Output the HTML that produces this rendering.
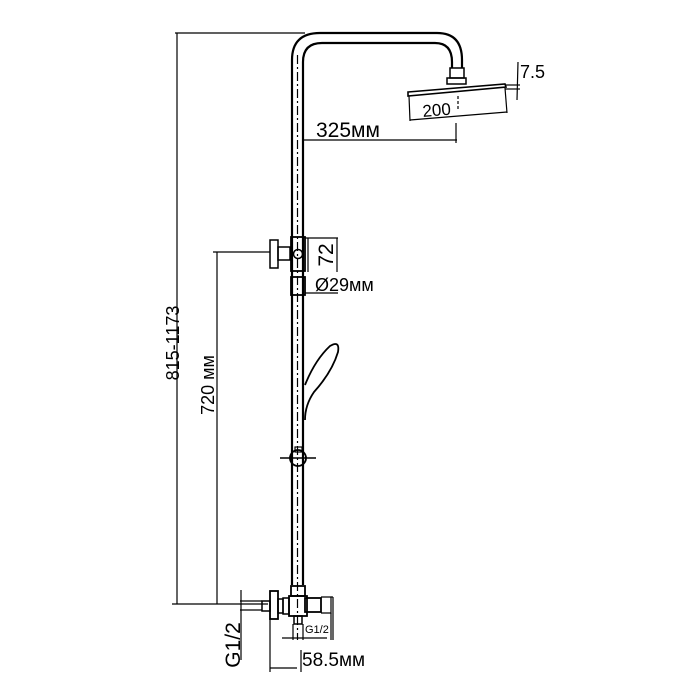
<!DOCTYPE html>
<html><head><meta charset="utf-8"><style>body{margin:0;background:#fff}svg{display:block}</style></head><body>
<svg width="700" height="700" viewBox="0 0 700 700" xmlns="http://www.w3.org/2000/svg" font-family="Liberation Sans, sans-serif">
<g fill="none" stroke="#000" stroke-width="1.2">
<line x1="177" y1="33" x2="177" y2="604"/>
<line x1="175" y1="33" x2="305" y2="33"/>
<line x1="172" y1="604" x2="268" y2="604"/>
<line x1="217" y1="252" x2="217" y2="604"/>
<line x1="213" y1="252" x2="270" y2="252"/>
<path d="M292 585 V60 Q292 33 320 33 H437 Q462 33 462 60 V68" stroke-width="2.2"/>
<path d="M303 585 V62 Q303 43 322 43 H435 Q452 43 452 62 V68" stroke-width="2.2"/>
<line x1="297.5" y1="55" x2="297.5" y2="640" stroke-dasharray="9,3,2,3"/>
<rect x="450" y="68" width="14" height="10" stroke-width="1.5"/>
<rect x="447" y="78" width="19" height="6" stroke-width="1.5"/>
<path d="M408 92 L505 84 L506 87 L408 96 Z" stroke-width="1.6"/>
<line x1="409" y1="96" x2="410" y2="121"/>
<line x1="505" y1="88" x2="507" y2="113"/>
<line x1="410" y1="120" x2="507" y2="112"/>
<line x1="458" y1="96" x2="458" y2="110" stroke-dasharray="3,2"/>
<line x1="505" y1="85" x2="520" y2="85"/>
<line x1="505" y1="89" x2="520" y2="89"/>
<line x1="518" y1="62" x2="517" y2="100"/>
<line x1="303" y1="140" x2="457" y2="140"/>
<line x1="456" y1="123" x2="456" y2="143"/>
<rect x="270" y="240" width="8" height="28" stroke-width="1.5"/>
<rect x="278" y="247" width="12" height="13" stroke-width="1.5"/>
<rect x="291" y="237" width="14" height="34" stroke-width="1.8"/>
<circle cx="298" cy="254" r="4.5" stroke-width="1.5"/>
<line x1="305" y1="238" x2="338" y2="238"/>
<line x1="308" y1="238" x2="308" y2="272"/>
<line x1="337" y1="238" x2="337" y2="272"/>
<rect x="291" y="277" width="14" height="18" stroke-width="1.8"/>
<line x1="305" y1="293" x2="338" y2="293"/>
<path d="M305 385 Q315 360 330 346 Q340 340 338 352 Q332 372 314 392 Q305 405 305 420" stroke-width="1.8"/>
<circle cx="298" cy="458" r="8" stroke-width="1.8"/>
<line x1="280" y1="458" x2="316" y2="458" stroke-width="1.5"/>
<rect x="295" y="447" width="7" height="5"/>
<rect x="291" y="586" width="14" height="10" stroke-width="1.8"/>
<rect x="289" y="596" width="18" height="20" stroke-width="1.8"/>
<rect x="305" y="598" width="16" height="14" stroke-width="1.8"/>
<path d="M321 597 L331 597 L331 613 L321 613" />
<line x1="331" y1="597" x2="333" y2="597"/>
<rect x="283" y="598" width="6" height="16" stroke-width="1.5"/>
<rect x="270" y="591" width="8" height="28" stroke-width="1.8"/>
<rect x="278" y="599" width="5" height="14" stroke-width="1.5"/>
<rect x="262" y="601" width="8" height="10" stroke-width="1.5"/>
<line x1="240" y1="601" x2="262" y2="601"/>
<line x1="240" y1="610" x2="262" y2="610"/>
<line x1="241" y1="590" x2="241" y2="660"/>
<rect x="294" y="616" width="8" height="8" stroke-width="1.5"/>
<line x1="293" y1="624" x2="293" y2="640"/>
<line x1="303" y1="624" x2="303" y2="640"/>
<line x1="282" y1="638" x2="327" y2="638"/>
<line x1="331" y1="613" x2="331" y2="640"/>
<line x1="333" y1="597" x2="333" y2="640"/>
<line x1="270" y1="619" x2="270" y2="672"/>
<line x1="270" y1="668" x2="297" y2="668"/>
<line x1="301" y1="650" x2="301" y2="672"/>
</g>
<g fill="#000">
<text x="316" y="137" font-size="21">325мм</text>
<text x="423" y="117" font-size="17" transform="rotate(-5 423 117)">200</text>
<text x="520" y="78" font-size="18">7.5</text>
<text x="315" y="291" font-size="18">Ø29мм</text>
<text transform="translate(333 255) rotate(-90)" font-size="21" text-anchor="middle">72</text>
<text transform="translate(179 343) rotate(-90)" font-size="18" text-anchor="middle">815-1173</text>
<text transform="translate(214 385) rotate(-90)" font-size="18" text-anchor="middle">720 мм</text>
<text transform="translate(240 645) rotate(-90)" font-size="21" text-anchor="middle">G1/2</text>
<text x="305" y="633" font-size="11">G1/2</text>
<text x="302" y="666" font-size="19">58.5мм</text>
</g>
</svg>
</body></html>
